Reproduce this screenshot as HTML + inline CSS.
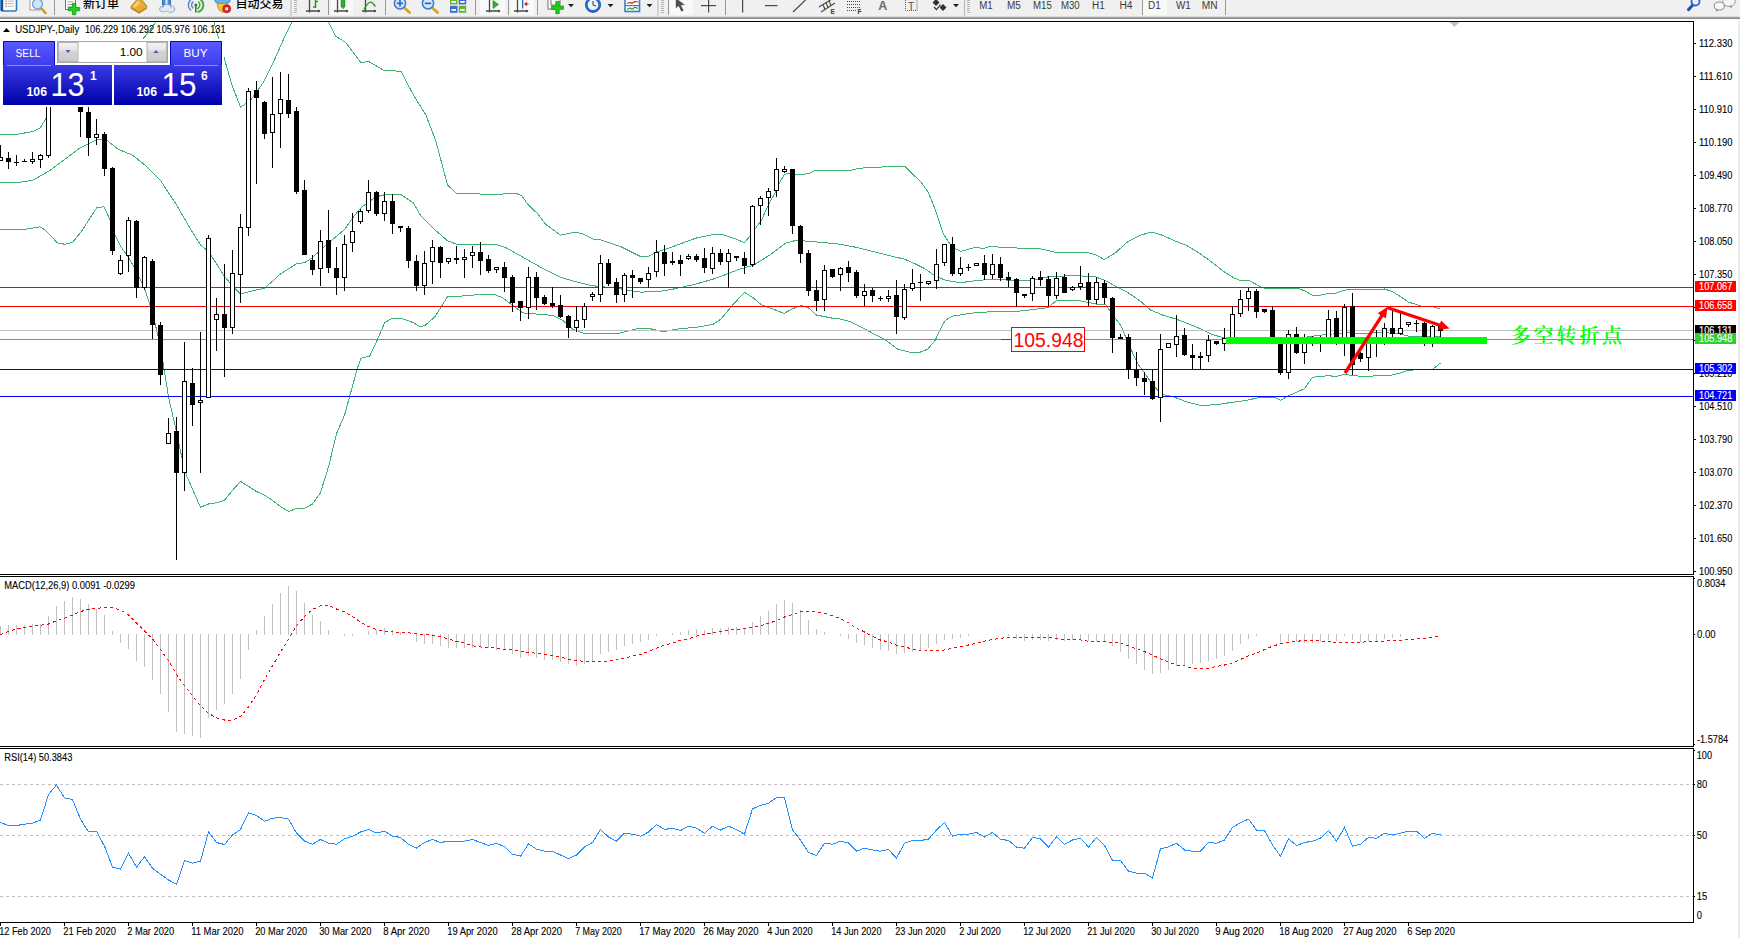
<!DOCTYPE html>
<html><head><meta charset="utf-8"><title>USDJPY Daily</title>
<style>
html,body{margin:0;padding:0;background:#fff;overflow:hidden}
svg{display:block}
text{font-family:"Liberation Sans", "Noto Sans CJK SC", sans-serif;}
.ax{font-size:10px;fill:#000;stroke:#000;stroke-width:0.1px}
.lb{font-size:10px;fill:#fff;stroke:#fff;stroke-width:0.1px}
.tf{font-size:10px;fill:#3a3a3a}
.cj{font-size:12px;fill:#000;font-weight:500}
.zh{font-family:"Liberation Serif", "Noto Serif CJK SC", serif;font-size:20.2px;font-weight:600;fill:#00ff00;letter-spacing:2.7px}
</style></head><body>
<svg width="1740" height="938" viewBox="0 0 1740 938">
<defs>
<clipPath id="cm"><rect x="0" y="22" width="1693" height="552"/></clipPath>
<linearGradient id="gb" x1="0" y1="0" x2="0" y2="1"><stop offset="0" stop-color="#3a3ae6"/><stop offset="1" stop-color="#0000a8"/></linearGradient>
<linearGradient id="gt" x1="0" y1="0" x2="0" y2="1"><stop offset="0" stop-color="#5a5aff"/><stop offset="1" stop-color="#3c3cec"/></linearGradient>
<linearGradient id="gg" x1="0" y1="0" x2="0" y2="1"><stop offset="0" stop-color="#f2f2f2"/><stop offset="0.4" stop-color="#e6e6e6"/><stop offset="0.45" stop-color="#d4d4d4"/><stop offset="1" stop-color="#cacaca"/></linearGradient>
</defs>
<rect width="1740" height="938" fill="#fff"/>

<g clip-path="url(#cm)" fill="none" stroke="#3cb371" stroke-width="1" shape-rendering="crispEdges">
<polyline points="0.0,135.0 15.0,134.8 32.6,131.5 40.0,128.3 46.4,117.7 50.0,106.5 80.0,80.0 110.0,60.0 143.0,39.0 156.0,22.0 165.0,8.0 185.0,-10.0 205.0,5.0 214.0,22.0 218.7,38.7 224.0,57.5 232.0,85.3 240.6,107.2 250.6,100.2 263.2,82.7 273.2,62.6 283.2,40.0 292.0,22.0 300.0,5.0 320.0,5.0 328.3,22.0 335.8,36.3 345.9,42.6 360.9,62.6 368.4,61.4 383.5,70.1 401.0,71.4 413.5,95.2 426.0,115.2 435.5,140.0 447.6,185.1 456.3,193.1 495.2,194.6 515.2,193.1 521.5,195.6 529.0,205.7 537.8,213.9 545.3,224.0 560.4,235.2 575.4,232.2 582.9,234.0 592.9,239.0 600.5,239.7 620.5,246.5 640.6,256.5 649.3,256.0 656.8,252.0 673.1,246.5 695.7,238.2 713.2,234.5 723.3,234.7 735.8,239.0 744.6,242.8 753.3,231.5 761.4,220.2 769.4,202.7 777.4,188.9 780.0,181.6 784.5,174.5 790.2,173.0 796.6,174.3 803.0,174.3 809.4,173.3 815.8,170.3 850.4,170.3 860.6,168.1 876.0,167.5 892.6,166.2 904.7,166.2 913.0,174.5 920.7,181.6 928.4,192.4 936.0,211.6 943.7,234.7 950.1,244.2 955.2,248.7 960.4,251.3 968.0,249.4 975.7,247.2 983.4,248.5 991.0,246.2 1002.9,247.6 1020.5,248.1 1040.5,248.8 1056.8,252.6 1085.6,252.1 1095.6,254.6 1104.4,259.6 1115.7,252.6 1128.2,241.3 1140.8,235.0 1152.0,232.0 1163.3,235.6 1175.8,241.3 1185.9,245.1 1198.4,252.6 1210.9,261.4 1223.5,271.4 1233.5,277.7 1241.0,280.7 1250.0,281.0 1260.0,286.5 1264.4,288.2 1297.5,288.2 1304.7,290.8 1311.9,295.1 1320.5,295.1 1328.4,293.4 1336.4,293.0 1344.4,290.1 1352.5,289.7 1368.5,289.7 1376.5,289.4 1384.4,289.0 1392.5,291.6 1400.4,296.6 1408.5,302.1 1416.5,304.5 1424.4,307.0 1432.5,306.7 1440.4,308.8"/>
<polyline points="0.0,182.9 15.0,182.9 32.6,180.4 50.0,170.4 65.2,159.1 80.2,147.8 96.5,139.8 105.3,139.0 117.8,149.0 132.8,155.3 145.4,165.4 160.4,180.4 175.4,203.0 190.5,229.0 200.5,245.0 208.5,251.5 216.5,263.8 224.6,276.4 232.6,286.4 240.6,293.9 250.6,291.4 264.4,288.1 272.4,281.4 280.5,273.9 296.5,263.8 304.5,262.6 312.5,257.6 320.5,250.0 328.6,242.5 336.6,236.3 344.6,229.5 352.6,218.0 360.7,208.0 368.7,201.7 376.7,196.7 384.7,194.7 401.0,194.7 413.5,203.0 420.0,214.7 432.5,227.7 447.6,240.8 456.3,244.0 495.2,244.0 505.2,247.3 520.3,255.8 532.8,262.8 545.3,269.8 560.4,277.3 575.4,281.6 590.4,285.4 600.5,286.6 615.5,287.9 633.0,291.1 640.6,292.1 658.1,291.6 673.1,289.1 695.7,284.1 713.2,279.1 728.3,273.6 738.3,269.6 753.3,265.3 769.4,255.3 785.4,243.3 796.0,240.3 811.0,241.5 833.5,243.5 840.0,244.3 855.0,247.1 872.6,251.3 887.6,255.1 905.2,259.4 915.2,263.9 925.2,268.9 934.0,275.2 945.3,280.2 960.3,282.7 975.3,280.7 990.4,279.4 1010.4,280.2 1030.5,280.7 1048.0,276.9 1065.6,275.9 1080.6,275.9 1095.6,276.9 1105.7,280.7 1115.7,286.4 1128.2,292.7 1140.8,301.5 1150.8,310.2 1163.3,315.3 1175.8,319.0 1185.9,322.8 1200.9,329.0 1210.9,334.0 1223.5,337.8 1240.0,340.0 1280.0,340.0 1300.0,338.0 1311.9,336.2 1320.5,335.4 1324.8,334.3 1332.8,334.0 1339.2,333.3 1347.9,332.6 1359.4,333.3 1368.5,333.3 1376.5,332.6 1384.4,332.6 1400.4,334.0 1408.5,336.2 1412.6,336.9 1437.0,336.9 1440.0,336.2"/>
<polyline points="0.0,229.3 25.0,229.3 40.0,226.8 45.0,230.0 57.6,243.0 65.2,244.3 72.7,242.3 81.5,231.3 85.2,225.5 96.5,208.0 104.0,206.7 110.3,220.5 112.5,230.0 120.6,246.3 128.6,257.6 136.6,271.4 144.6,288.9 152.6,312.7 160.7,347.8 168.7,398.0 176.7,432.6 184.7,471.4 200.5,507.3 208.5,504.0 216.5,502.8 224.5,500.3 232.6,490.2 240.6,481.5 248.6,486.5 256.4,491.5 264.4,495.2 272.4,500.3 280.5,506.5 288.5,511.5 296.5,508.5 304.5,508.3 312.5,504.0 320.5,492.7 328.6,466.5 336.6,433.5 344.6,415.0 349.6,396.7 357.1,369.1 360.9,358.3 369.7,356.1 376.0,342.8 384.7,322.7 392.2,318.2 401.0,318.2 413.5,322.7 420.0,326.7 425.0,325.5 435.0,316.7 441.3,306.7 447.6,296.6 465.1,295.9 477.6,294.6 495.2,294.6 502.7,297.9 512.7,305.4 522.8,312.9 537.8,314.2 552.8,315.4 562.9,320.5 572.9,329.2 582.9,333.0 600.5,333.7 620.5,333.0 638.0,328.5 649.3,328.5 663.1,331.7 680.7,328.5 695.7,327.5 713.2,324.2 720.8,319.2 733.3,304.2 744.6,292.4 753.3,297.9 761.4,304.9 773.4,309.2 783.9,313.4 793.4,308.4 801.5,305.4 809.5,308.4 816.0,314.9 833.5,318.4 840.0,319.0 850.0,321.5 862.6,327.8 875.1,334.5 885.1,339.8 897.6,349.1 910.2,352.3 920.2,352.1 927.7,349.1 935.2,340.3 940.3,329.0 945.3,320.3 952.8,316.0 975.3,312.7 995.4,311.5 1020.5,311.0 1048.0,307.7 1056.8,300.2 1080.6,301.0 1095.6,304.0 1105.7,304.7 1113.2,315.3 1120.7,325.3 1129.2,345.3 1137.2,362.9 1145.3,374.1 1153.3,385.4 1161.3,394.2 1173.3,396.7 1185.9,401.7 1200.9,405.5 1215.9,404.7 1231.0,402.5 1246.0,400.5 1260.0,397.3 1274.5,397.3 1280.5,400.2 1288.4,395.9 1296.5,392.3 1304.4,388.7 1312.5,377.2 1320.5,376.5 1328.4,375.7 1336.5,376.5 1344.4,374.3 1352.5,375.5 1360.5,376.2 1368.5,376.5 1376.5,375.7 1384.4,375.5 1392.5,375.0 1400.4,372.9 1408.5,370.0 1412.6,370.0 1432.5,369.3 1440.4,363.1"/>
</g>
<g shape-rendering="crispEdges">
<rect x="0" y="287" width="1693" height="1" fill="#ff0000"/>
<rect x="0" y="306" width="1693" height="1" fill="#ff0000"/>
<rect x="0" y="330" width="1693" height="1" fill="#c0c0c0"/>
<rect x="0" y="369" width="1693" height="1" fill="#0000ff"/>
<rect x="0" y="396" width="1693" height="1" fill="#0000ff"/>
<rect x="0" y="339" width="1693" height="1" fill="#32cd32"/>
</g>
<g shape-rendering="crispEdges" clip-path="url(#cm)">
<rect x="0" y="145" width="1" height="16" fill="#000"/>
<rect x="-2" y="157" width="5" height="4" fill="#000"/>
<rect x="-1" y="158" width="3" height="2" fill="#fff"/>
<rect x="8" y="152" width="1" height="17" fill="#000"/>
<rect x="6" y="158" width="5" height="4" fill="#000"/>
<rect x="16" y="155" width="1" height="11" fill="#000"/>
<rect x="14" y="162" width="5" height="1" fill="#000"/>
<rect x="24" y="159" width="1" height="3" fill="#000"/>
<rect x="22" y="161" width="5" height="1" fill="#000"/>
<rect x="32" y="152" width="1" height="12" fill="#000"/>
<rect x="30" y="159" width="5" height="3" fill="#000"/>
<rect x="31" y="160" width="3" height="1" fill="#fff"/>
<rect x="40" y="154" width="1" height="14" fill="#000"/>
<rect x="38" y="155" width="5" height="5" fill="#000"/>
<rect x="39" y="156" width="3" height="3" fill="#fff"/>
<rect x="48" y="100" width="1" height="58" fill="#000"/>
<rect x="46" y="100" width="5" height="56" fill="#000"/>
<rect x="47" y="101" width="3" height="54" fill="#fff"/>
<rect x="80" y="100" width="1" height="37" fill="#000"/>
<rect x="78" y="100" width="5" height="12" fill="#000"/>
<rect x="88" y="100" width="1" height="56" fill="#000"/>
<rect x="86" y="112" width="5" height="26" fill="#000"/>
<rect x="96" y="119" width="1" height="26" fill="#000"/>
<rect x="94" y="134" width="5" height="4" fill="#000"/>
<rect x="95" y="135" width="3" height="2" fill="#fff"/>
<rect x="104" y="132" width="1" height="44" fill="#000"/>
<rect x="102" y="134" width="5" height="35" fill="#000"/>
<rect x="112" y="167" width="1" height="88" fill="#000"/>
<rect x="110" y="168" width="5" height="83" fill="#000"/>
<rect x="120" y="255" width="1" height="20" fill="#000"/>
<rect x="118" y="260" width="5" height="14" fill="#000"/>
<rect x="119" y="261" width="3" height="12" fill="#fff"/>
<rect x="128" y="217" width="1" height="55" fill="#000"/>
<rect x="126" y="220" width="5" height="36" fill="#000"/>
<rect x="127" y="221" width="3" height="34" fill="#fff"/>
<rect x="136" y="220" width="1" height="78" fill="#000"/>
<rect x="134" y="221" width="5" height="67" fill="#000"/>
<rect x="144" y="256" width="1" height="34" fill="#000"/>
<rect x="142" y="257" width="5" height="31" fill="#000"/>
<rect x="143" y="258" width="3" height="29" fill="#fff"/>
<rect x="152" y="259" width="1" height="80" fill="#000"/>
<rect x="150" y="261" width="5" height="64" fill="#000"/>
<rect x="160" y="322" width="1" height="63" fill="#000"/>
<rect x="158" y="325" width="5" height="50" fill="#000"/>
<rect x="168" y="418" width="1" height="26" fill="#000"/>
<rect x="166" y="433" width="5" height="11" fill="#000"/>
<rect x="167" y="434" width="3" height="9" fill="#fff"/>
<rect x="176" y="417" width="1" height="143" fill="#000"/>
<rect x="174" y="431" width="5" height="42" fill="#000"/>
<rect x="184" y="342" width="1" height="149" fill="#000"/>
<rect x="182" y="381" width="5" height="92" fill="#000"/>
<rect x="183" y="382" width="3" height="90" fill="#fff"/>
<rect x="192" y="368" width="1" height="58" fill="#000"/>
<rect x="190" y="383" width="5" height="22" fill="#000"/>
<rect x="200" y="332" width="1" height="141" fill="#000"/>
<rect x="198" y="400" width="5" height="3" fill="#000"/>
<rect x="199" y="401" width="3" height="1" fill="#fff"/>
<rect x="208" y="235" width="1" height="163" fill="#000"/>
<rect x="206" y="238" width="5" height="160" fill="#000"/>
<rect x="207" y="239" width="3" height="158" fill="#fff"/>
<rect x="216" y="298" width="1" height="53" fill="#000"/>
<rect x="214" y="314" width="5" height="6" fill="#000"/>
<rect x="215" y="315" width="3" height="4" fill="#fff"/>
<rect x="224" y="264" width="1" height="113" fill="#000"/>
<rect x="222" y="314" width="5" height="14" fill="#000"/>
<rect x="232" y="250" width="1" height="84" fill="#000"/>
<rect x="230" y="273" width="5" height="55" fill="#000"/>
<rect x="231" y="274" width="3" height="53" fill="#fff"/>
<rect x="240" y="214" width="1" height="89" fill="#000"/>
<rect x="238" y="227" width="5" height="48" fill="#000"/>
<rect x="239" y="228" width="3" height="46" fill="#fff"/>
<rect x="248" y="88" width="1" height="148" fill="#000"/>
<rect x="246" y="91" width="5" height="137" fill="#000"/>
<rect x="247" y="92" width="3" height="135" fill="#fff"/>
<rect x="256" y="81" width="1" height="103" fill="#000"/>
<rect x="254" y="90" width="5" height="8" fill="#000"/>
<rect x="264" y="101" width="1" height="38" fill="#000"/>
<rect x="262" y="102" width="5" height="32" fill="#000"/>
<rect x="272" y="77" width="1" height="91" fill="#000"/>
<rect x="270" y="114" width="5" height="19" fill="#000"/>
<rect x="271" y="115" width="3" height="17" fill="#fff"/>
<rect x="280" y="72" width="1" height="76" fill="#000"/>
<rect x="278" y="99" width="5" height="15" fill="#000"/>
<rect x="279" y="100" width="3" height="13" fill="#fff"/>
<rect x="288" y="74" width="1" height="44" fill="#000"/>
<rect x="286" y="100" width="5" height="14" fill="#000"/>
<rect x="296" y="107" width="1" height="87" fill="#000"/>
<rect x="294" y="111" width="5" height="81" fill="#000"/>
<rect x="304" y="180" width="1" height="75" fill="#000"/>
<rect x="302" y="190" width="5" height="65" fill="#000"/>
<rect x="312" y="255" width="1" height="20" fill="#000"/>
<rect x="310" y="260" width="5" height="10" fill="#000"/>
<rect x="320" y="230" width="1" height="56" fill="#000"/>
<rect x="318" y="241" width="5" height="28" fill="#000"/>
<rect x="319" y="242" width="3" height="26" fill="#fff"/>
<rect x="328" y="210" width="1" height="63" fill="#000"/>
<rect x="326" y="240" width="5" height="28" fill="#000"/>
<rect x="336" y="247" width="1" height="48" fill="#000"/>
<rect x="334" y="268" width="5" height="10" fill="#000"/>
<rect x="344" y="235" width="1" height="56" fill="#000"/>
<rect x="342" y="244" width="5" height="34" fill="#000"/>
<rect x="343" y="245" width="3" height="32" fill="#fff"/>
<rect x="352" y="213" width="1" height="39" fill="#000"/>
<rect x="350" y="231" width="5" height="12" fill="#000"/>
<rect x="351" y="232" width="3" height="10" fill="#fff"/>
<rect x="360" y="209" width="1" height="15" fill="#000"/>
<rect x="358" y="211" width="5" height="11" fill="#000"/>
<rect x="359" y="212" width="3" height="9" fill="#fff"/>
<rect x="368" y="180" width="1" height="33" fill="#000"/>
<rect x="366" y="192" width="5" height="19" fill="#000"/>
<rect x="367" y="193" width="3" height="17" fill="#fff"/>
<rect x="376" y="191" width="1" height="25" fill="#000"/>
<rect x="374" y="192" width="5" height="22" fill="#000"/>
<rect x="384" y="192" width="1" height="29" fill="#000"/>
<rect x="382" y="201" width="5" height="13" fill="#000"/>
<rect x="383" y="202" width="3" height="11" fill="#fff"/>
<rect x="392" y="194" width="1" height="40" fill="#000"/>
<rect x="390" y="201" width="5" height="23" fill="#000"/>
<rect x="400" y="226" width="1" height="6" fill="#000"/>
<rect x="398" y="226" width="5" height="2" fill="#000"/>
<rect x="408" y="226" width="1" height="42" fill="#000"/>
<rect x="406" y="228" width="5" height="33" fill="#000"/>
<rect x="416" y="255" width="1" height="36" fill="#000"/>
<rect x="414" y="261" width="5" height="25" fill="#000"/>
<rect x="424" y="251" width="1" height="44" fill="#000"/>
<rect x="422" y="263" width="5" height="23" fill="#000"/>
<rect x="423" y="264" width="3" height="21" fill="#fff"/>
<rect x="432" y="240" width="1" height="44" fill="#000"/>
<rect x="430" y="247" width="5" height="15" fill="#000"/>
<rect x="431" y="248" width="3" height="13" fill="#fff"/>
<rect x="440" y="246" width="1" height="32" fill="#000"/>
<rect x="438" y="247" width="5" height="16" fill="#000"/>
<rect x="448" y="258" width="1" height="6" fill="#000"/>
<rect x="446" y="258" width="5" height="4" fill="#000"/>
<rect x="447" y="259" width="3" height="2" fill="#fff"/>
<rect x="456" y="246" width="1" height="18" fill="#000"/>
<rect x="454" y="258" width="5" height="2" fill="#000"/>
<rect x="464" y="249" width="1" height="29" fill="#000"/>
<rect x="462" y="257" width="5" height="3" fill="#000"/>
<rect x="463" y="258" width="3" height="1" fill="#fff"/>
<rect x="472" y="246" width="1" height="22" fill="#000"/>
<rect x="470" y="252" width="5" height="4" fill="#000"/>
<rect x="471" y="253" width="3" height="2" fill="#fff"/>
<rect x="480" y="242" width="1" height="33" fill="#000"/>
<rect x="478" y="252" width="5" height="9" fill="#000"/>
<rect x="488" y="255" width="1" height="18" fill="#000"/>
<rect x="486" y="259" width="5" height="12" fill="#000"/>
<rect x="496" y="267" width="1" height="6" fill="#000"/>
<rect x="494" y="267" width="5" height="3" fill="#000"/>
<rect x="495" y="268" width="3" height="1" fill="#fff"/>
<rect x="504" y="262" width="1" height="30" fill="#000"/>
<rect x="502" y="267" width="5" height="11" fill="#000"/>
<rect x="512" y="275" width="1" height="37" fill="#000"/>
<rect x="510" y="277" width="5" height="26" fill="#000"/>
<rect x="520" y="301" width="1" height="20" fill="#000"/>
<rect x="518" y="301" width="5" height="7" fill="#000"/>
<rect x="528" y="267" width="1" height="52" fill="#000"/>
<rect x="526" y="277" width="5" height="31" fill="#000"/>
<rect x="527" y="278" width="3" height="29" fill="#fff"/>
<rect x="536" y="272" width="1" height="38" fill="#000"/>
<rect x="534" y="277" width="5" height="21" fill="#000"/>
<rect x="544" y="295" width="1" height="10" fill="#000"/>
<rect x="542" y="297" width="5" height="7" fill="#000"/>
<rect x="552" y="287" width="1" height="21" fill="#000"/>
<rect x="550" y="303" width="5" height="3" fill="#000"/>
<rect x="560" y="295" width="1" height="23" fill="#000"/>
<rect x="558" y="305" width="5" height="12" fill="#000"/>
<rect x="568" y="315" width="1" height="23" fill="#000"/>
<rect x="566" y="316" width="5" height="12" fill="#000"/>
<rect x="576" y="306" width="1" height="26" fill="#000"/>
<rect x="574" y="320" width="5" height="8" fill="#000"/>
<rect x="575" y="321" width="3" height="6" fill="#fff"/>
<rect x="584" y="303" width="1" height="25" fill="#000"/>
<rect x="582" y="306" width="5" height="14" fill="#000"/>
<rect x="583" y="307" width="3" height="12" fill="#fff"/>
<rect x="592" y="292" width="1" height="9" fill="#000"/>
<rect x="590" y="294" width="5" height="3" fill="#000"/>
<rect x="591" y="295" width="3" height="1" fill="#fff"/>
<rect x="600" y="255" width="1" height="47" fill="#000"/>
<rect x="598" y="263" width="5" height="32" fill="#000"/>
<rect x="599" y="264" width="3" height="30" fill="#fff"/>
<rect x="608" y="259" width="1" height="27" fill="#000"/>
<rect x="606" y="263" width="5" height="21" fill="#000"/>
<rect x="616" y="278" width="1" height="25" fill="#000"/>
<rect x="614" y="282" width="5" height="13" fill="#000"/>
<rect x="624" y="273" width="1" height="29" fill="#000"/>
<rect x="622" y="275" width="5" height="20" fill="#000"/>
<rect x="623" y="276" width="3" height="18" fill="#fff"/>
<rect x="632" y="270" width="1" height="28" fill="#000"/>
<rect x="630" y="275" width="5" height="3" fill="#000"/>
<rect x="640" y="278" width="1" height="6" fill="#000"/>
<rect x="638" y="278" width="5" height="4" fill="#000"/>
<rect x="648" y="267" width="1" height="21" fill="#000"/>
<rect x="646" y="273" width="5" height="7" fill="#000"/>
<rect x="647" y="274" width="3" height="5" fill="#fff"/>
<rect x="656" y="240" width="1" height="37" fill="#000"/>
<rect x="654" y="252" width="5" height="20" fill="#000"/>
<rect x="655" y="253" width="3" height="18" fill="#fff"/>
<rect x="664" y="245" width="1" height="31" fill="#000"/>
<rect x="662" y="252" width="5" height="12" fill="#000"/>
<rect x="672" y="252" width="1" height="13" fill="#000"/>
<rect x="670" y="261" width="5" height="2" fill="#000"/>
<rect x="680" y="255" width="1" height="21" fill="#000"/>
<rect x="678" y="260" width="5" height="4" fill="#000"/>
<rect x="688" y="254" width="1" height="6" fill="#000"/>
<rect x="686" y="256" width="5" height="3" fill="#000"/>
<rect x="687" y="257" width="3" height="1" fill="#fff"/>
<rect x="696" y="254" width="1" height="8" fill="#000"/>
<rect x="694" y="256" width="5" height="4" fill="#000"/>
<rect x="704" y="248" width="1" height="25" fill="#000"/>
<rect x="702" y="258" width="5" height="10" fill="#000"/>
<rect x="712" y="247" width="1" height="27" fill="#000"/>
<rect x="710" y="253" width="5" height="16" fill="#000"/>
<rect x="711" y="254" width="3" height="14" fill="#fff"/>
<rect x="720" y="249" width="1" height="16" fill="#000"/>
<rect x="718" y="253" width="5" height="9" fill="#000"/>
<rect x="728" y="249" width="1" height="39" fill="#000"/>
<rect x="726" y="253" width="5" height="9" fill="#000"/>
<rect x="727" y="254" width="3" height="7" fill="#fff"/>
<rect x="736" y="256" width="1" height="5" fill="#000"/>
<rect x="734" y="256" width="5" height="2" fill="#000"/>
<rect x="744" y="252" width="1" height="22" fill="#000"/>
<rect x="742" y="258" width="5" height="8" fill="#000"/>
<rect x="752" y="205" width="1" height="62" fill="#000"/>
<rect x="750" y="206" width="5" height="59" fill="#000"/>
<rect x="751" y="207" width="3" height="57" fill="#fff"/>
<rect x="760" y="196" width="1" height="29" fill="#000"/>
<rect x="758" y="198" width="5" height="8" fill="#000"/>
<rect x="759" y="199" width="3" height="6" fill="#fff"/>
<rect x="768" y="188" width="1" height="28" fill="#000"/>
<rect x="766" y="191" width="5" height="7" fill="#000"/>
<rect x="767" y="192" width="3" height="5" fill="#fff"/>
<rect x="776" y="158" width="1" height="39" fill="#000"/>
<rect x="774" y="169" width="5" height="22" fill="#000"/>
<rect x="775" y="170" width="3" height="20" fill="#fff"/>
<rect x="784" y="166" width="1" height="7" fill="#000"/>
<rect x="782" y="169" width="5" height="3" fill="#000"/>
<rect x="783" y="170" width="3" height="1" fill="#fff"/>
<rect x="792" y="169" width="1" height="65" fill="#000"/>
<rect x="790" y="169" width="5" height="57" fill="#000"/>
<rect x="800" y="225" width="1" height="38" fill="#000"/>
<rect x="798" y="226" width="5" height="28" fill="#000"/>
<rect x="808" y="250" width="1" height="46" fill="#000"/>
<rect x="806" y="253" width="5" height="38" fill="#000"/>
<rect x="816" y="280" width="1" height="31" fill="#000"/>
<rect x="814" y="290" width="5" height="11" fill="#000"/>
<rect x="824" y="265" width="1" height="46" fill="#000"/>
<rect x="822" y="270" width="5" height="30" fill="#000"/>
<rect x="823" y="271" width="3" height="28" fill="#fff"/>
<rect x="832" y="269" width="1" height="9" fill="#000"/>
<rect x="830" y="269" width="5" height="8" fill="#000"/>
<rect x="840" y="267" width="1" height="24" fill="#000"/>
<rect x="838" y="268" width="5" height="7" fill="#000"/>
<rect x="839" y="269" width="3" height="5" fill="#fff"/>
<rect x="848" y="261" width="1" height="21" fill="#000"/>
<rect x="846" y="267" width="5" height="6" fill="#000"/>
<rect x="856" y="270" width="1" height="28" fill="#000"/>
<rect x="854" y="272" width="5" height="24" fill="#000"/>
<rect x="864" y="284" width="1" height="22" fill="#000"/>
<rect x="862" y="291" width="5" height="5" fill="#000"/>
<rect x="863" y="292" width="3" height="3" fill="#fff"/>
<rect x="872" y="288" width="1" height="14" fill="#000"/>
<rect x="870" y="290" width="5" height="6" fill="#000"/>
<rect x="880" y="296" width="1" height="5" fill="#000"/>
<rect x="878" y="298" width="5" height="1" fill="#000"/>
<rect x="888" y="290" width="1" height="12" fill="#000"/>
<rect x="886" y="296" width="5" height="3" fill="#000"/>
<rect x="887" y="297" width="3" height="1" fill="#fff"/>
<rect x="896" y="280" width="1" height="54" fill="#000"/>
<rect x="894" y="295" width="5" height="22" fill="#000"/>
<rect x="904" y="284" width="1" height="36" fill="#000"/>
<rect x="902" y="289" width="5" height="29" fill="#000"/>
<rect x="903" y="290" width="3" height="27" fill="#fff"/>
<rect x="912" y="269" width="1" height="22" fill="#000"/>
<rect x="910" y="283" width="5" height="6" fill="#000"/>
<rect x="911" y="284" width="3" height="4" fill="#fff"/>
<rect x="920" y="274" width="1" height="27" fill="#000"/>
<rect x="918" y="282" width="5" height="1" fill="#000"/>
<rect x="928" y="281" width="1" height="4" fill="#000"/>
<rect x="926" y="281" width="5" height="3" fill="#000"/>
<rect x="927" y="282" width="3" height="1" fill="#fff"/>
<rect x="936" y="249" width="1" height="40" fill="#000"/>
<rect x="934" y="264" width="5" height="17" fill="#000"/>
<rect x="935" y="265" width="3" height="15" fill="#fff"/>
<rect x="944" y="244" width="1" height="22" fill="#000"/>
<rect x="942" y="244" width="5" height="19" fill="#000"/>
<rect x="943" y="245" width="3" height="17" fill="#fff"/>
<rect x="952" y="237" width="1" height="39" fill="#000"/>
<rect x="950" y="244" width="5" height="30" fill="#000"/>
<rect x="960" y="257" width="1" height="19" fill="#000"/>
<rect x="958" y="268" width="5" height="6" fill="#000"/>
<rect x="959" y="269" width="3" height="4" fill="#fff"/>
<rect x="968" y="264" width="1" height="7" fill="#000"/>
<rect x="966" y="267" width="5" height="1" fill="#000"/>
<rect x="976" y="263" width="1" height="3" fill="#000"/>
<rect x="974" y="263" width="5" height="3" fill="#000"/>
<rect x="975" y="264" width="3" height="1" fill="#fff"/>
<rect x="984" y="255" width="1" height="25" fill="#000"/>
<rect x="982" y="263" width="5" height="12" fill="#000"/>
<rect x="992" y="254" width="1" height="25" fill="#000"/>
<rect x="990" y="264" width="5" height="11" fill="#000"/>
<rect x="991" y="265" width="3" height="9" fill="#fff"/>
<rect x="1000" y="257" width="1" height="24" fill="#000"/>
<rect x="998" y="264" width="5" height="14" fill="#000"/>
<rect x="1008" y="272" width="1" height="15" fill="#000"/>
<rect x="1006" y="277" width="5" height="3" fill="#000"/>
<rect x="1016" y="278" width="1" height="29" fill="#000"/>
<rect x="1014" y="279" width="5" height="14" fill="#000"/>
<rect x="1024" y="294" width="1" height="4" fill="#000"/>
<rect x="1022" y="294" width="5" height="2" fill="#000"/>
<rect x="1032" y="276" width="1" height="25" fill="#000"/>
<rect x="1030" y="278" width="5" height="16" fill="#000"/>
<rect x="1031" y="279" width="3" height="14" fill="#fff"/>
<rect x="1040" y="271" width="1" height="15" fill="#000"/>
<rect x="1038" y="277" width="5" height="3" fill="#000"/>
<rect x="1048" y="276" width="1" height="30" fill="#000"/>
<rect x="1046" y="279" width="5" height="17" fill="#000"/>
<rect x="1056" y="272" width="1" height="27" fill="#000"/>
<rect x="1054" y="278" width="5" height="18" fill="#000"/>
<rect x="1055" y="279" width="3" height="16" fill="#fff"/>
<rect x="1064" y="274" width="1" height="19" fill="#000"/>
<rect x="1062" y="277" width="5" height="16" fill="#000"/>
<rect x="1072" y="286" width="1" height="5" fill="#000"/>
<rect x="1070" y="287" width="5" height="3" fill="#000"/>
<rect x="1071" y="288" width="3" height="1" fill="#fff"/>
<rect x="1080" y="266" width="1" height="24" fill="#000"/>
<rect x="1078" y="283" width="5" height="4" fill="#000"/>
<rect x="1079" y="284" width="3" height="2" fill="#fff"/>
<rect x="1088" y="273" width="1" height="33" fill="#000"/>
<rect x="1086" y="282" width="5" height="18" fill="#000"/>
<rect x="1096" y="277" width="1" height="27" fill="#000"/>
<rect x="1094" y="282" width="5" height="18" fill="#000"/>
<rect x="1095" y="283" width="3" height="16" fill="#fff"/>
<rect x="1104" y="280" width="1" height="24" fill="#000"/>
<rect x="1102" y="283" width="5" height="15" fill="#000"/>
<rect x="1112" y="297" width="1" height="56" fill="#000"/>
<rect x="1110" y="298" width="5" height="40" fill="#000"/>
<rect x="1120" y="334" width="1" height="5" fill="#000"/>
<rect x="1118" y="337" width="5" height="2" fill="#000"/>
<rect x="1128" y="334" width="1" height="45" fill="#000"/>
<rect x="1126" y="337" width="5" height="33" fill="#000"/>
<rect x="1136" y="352" width="1" height="34" fill="#000"/>
<rect x="1134" y="370" width="5" height="8" fill="#000"/>
<rect x="1144" y="372" width="1" height="23" fill="#000"/>
<rect x="1142" y="378" width="5" height="4" fill="#000"/>
<rect x="1152" y="370" width="1" height="30" fill="#000"/>
<rect x="1150" y="381" width="5" height="18" fill="#000"/>
<rect x="1160" y="334" width="1" height="88" fill="#000"/>
<rect x="1158" y="349" width="5" height="49" fill="#000"/>
<rect x="1159" y="350" width="3" height="47" fill="#fff"/>
<rect x="1168" y="343" width="1" height="5" fill="#000"/>
<rect x="1166" y="343" width="5" height="5" fill="#000"/>
<rect x="1167" y="344" width="3" height="3" fill="#fff"/>
<rect x="1176" y="315" width="1" height="42" fill="#000"/>
<rect x="1174" y="336" width="5" height="9" fill="#000"/>
<rect x="1175" y="337" width="3" height="7" fill="#fff"/>
<rect x="1184" y="328" width="1" height="28" fill="#000"/>
<rect x="1182" y="335" width="5" height="20" fill="#000"/>
<rect x="1192" y="344" width="1" height="25" fill="#000"/>
<rect x="1190" y="355" width="5" height="3" fill="#000"/>
<rect x="1200" y="352" width="1" height="17" fill="#000"/>
<rect x="1198" y="356" width="5" height="2" fill="#000"/>
<rect x="1208" y="335" width="1" height="27" fill="#000"/>
<rect x="1206" y="340" width="5" height="16" fill="#000"/>
<rect x="1207" y="341" width="3" height="14" fill="#fff"/>
<rect x="1216" y="341" width="1" height="4" fill="#000"/>
<rect x="1214" y="341" width="5" height="3" fill="#000"/>
<rect x="1224" y="328" width="1" height="23" fill="#000"/>
<rect x="1222" y="338" width="5" height="6" fill="#000"/>
<rect x="1223" y="339" width="3" height="4" fill="#fff"/>
<rect x="1232" y="306" width="1" height="32" fill="#000"/>
<rect x="1230" y="314" width="5" height="24" fill="#000"/>
<rect x="1231" y="315" width="3" height="22" fill="#fff"/>
<rect x="1240" y="290" width="1" height="27" fill="#000"/>
<rect x="1238" y="299" width="5" height="15" fill="#000"/>
<rect x="1239" y="300" width="3" height="13" fill="#fff"/>
<rect x="1248" y="288" width="1" height="23" fill="#000"/>
<rect x="1246" y="291" width="5" height="8" fill="#000"/>
<rect x="1247" y="292" width="3" height="6" fill="#fff"/>
<rect x="1256" y="289" width="1" height="29" fill="#000"/>
<rect x="1254" y="291" width="5" height="21" fill="#000"/>
<rect x="1264" y="309" width="1" height="4" fill="#000"/>
<rect x="1262" y="309" width="5" height="3" fill="#000"/>
<rect x="1272" y="306" width="1" height="34" fill="#000"/>
<rect x="1270" y="310" width="5" height="30" fill="#000"/>
<rect x="1280" y="340" width="1" height="35" fill="#000"/>
<rect x="1278" y="340" width="5" height="33" fill="#000"/>
<rect x="1288" y="330" width="1" height="49" fill="#000"/>
<rect x="1286" y="334" width="5" height="39" fill="#000"/>
<rect x="1287" y="335" width="3" height="37" fill="#fff"/>
<rect x="1296" y="327" width="1" height="27" fill="#000"/>
<rect x="1294" y="334" width="5" height="19" fill="#000"/>
<rect x="1304" y="334" width="1" height="30" fill="#000"/>
<rect x="1302" y="341" width="5" height="12" fill="#000"/>
<rect x="1303" y="342" width="3" height="10" fill="#fff"/>
<rect x="1312" y="336" width="1" height="10" fill="#000"/>
<rect x="1310" y="340" width="5" height="1" fill="#000"/>
<rect x="1320" y="336" width="1" height="16" fill="#000"/>
<rect x="1318" y="340" width="5" height="1" fill="#000"/>
<rect x="1328" y="310" width="1" height="31" fill="#000"/>
<rect x="1326" y="319" width="5" height="21" fill="#000"/>
<rect x="1327" y="320" width="3" height="19" fill="#fff"/>
<rect x="1336" y="311" width="1" height="34" fill="#000"/>
<rect x="1334" y="318" width="5" height="22" fill="#000"/>
<rect x="1344" y="304" width="1" height="52" fill="#000"/>
<rect x="1342" y="307" width="5" height="33" fill="#000"/>
<rect x="1343" y="308" width="3" height="31" fill="#fff"/>
<rect x="1352" y="293" width="1" height="82" fill="#000"/>
<rect x="1350" y="306" width="5" height="59" fill="#000"/>
<rect x="1360" y="352" width="1" height="10" fill="#000"/>
<rect x="1358" y="353" width="5" height="6" fill="#000"/>
<rect x="1368" y="340" width="1" height="31" fill="#000"/>
<rect x="1366" y="340" width="5" height="18" fill="#000"/>
<rect x="1367" y="341" width="3" height="16" fill="#fff"/>
<rect x="1376" y="330" width="1" height="27" fill="#000"/>
<rect x="1374" y="339" width="5" height="3" fill="#000"/>
<rect x="1375" y="340" width="3" height="1" fill="#fff"/>
<rect x="1384" y="323" width="1" height="22" fill="#000"/>
<rect x="1382" y="328" width="5" height="12" fill="#000"/>
<rect x="1383" y="329" width="3" height="10" fill="#fff"/>
<rect x="1392" y="311" width="1" height="29" fill="#000"/>
<rect x="1390" y="328" width="5" height="6" fill="#000"/>
<rect x="1400" y="313" width="1" height="22" fill="#000"/>
<rect x="1398" y="328" width="5" height="6" fill="#000"/>
<rect x="1399" y="329" width="3" height="4" fill="#fff"/>
<rect x="1408" y="322" width="1" height="5" fill="#000"/>
<rect x="1406" y="322" width="5" height="3" fill="#000"/>
<rect x="1407" y="323" width="3" height="1" fill="#fff"/>
<rect x="1416" y="320" width="1" height="12" fill="#000"/>
<rect x="1414" y="323" width="5" height="1" fill="#000"/>
<rect x="1424" y="322" width="1" height="24" fill="#000"/>
<rect x="1422" y="323" width="5" height="17" fill="#000"/>
<rect x="1432" y="325" width="1" height="22" fill="#000"/>
<rect x="1430" y="326" width="5" height="14" fill="#000"/>
<rect x="1431" y="327" width="3" height="12" fill="#fff"/>
<rect x="1440" y="323" width="1" height="15" fill="#000"/>
<rect x="1438" y="326" width="5" height="5" fill="#000"/>
</g>
<rect x="1226" y="337" width="261" height="7" fill="#00ff00" shape-rendering="crispEdges"/>
<text class="zh" x="1510.5" y="342.9">多空转折点</text>
<line x1="1345" y1="373" x2="1382.9" y2="314.1" stroke="#ff0000" stroke-width="3.3"/>
<polygon points="1387.5,307.0 1385.9,318.5 1377.7,313.2" fill="#ff0000"/>
<line x1="1387" y1="307.5" x2="1441.4" y2="325.8" stroke="#ff0000" stroke-width="3.3"/>
<polygon points="1449.5,328.5 1438.0,329.8 1441.1,320.5" fill="#ff0000"/>
<rect x="1001" y="339" width="10" height="1" fill="#ff0000" shape-rendering="crispEdges"/>
<rect x="1011.5" y="327.5" width="73" height="24" fill="#fff" stroke="#ff0000" stroke-width="1" shape-rendering="crispEdges"/>
<text x="1013.5" y="346.5" style="font-size:19.4px;fill:#ff0000">105.948</text>
<g shape-rendering="crispEdges">
<rect x="0" y="21" width="1694" height="1" fill="#000"/>
<rect x="1693" y="21" width="1" height="554" fill="#000"/>
<rect x="1693" y="576" width="1" height="171" fill="#000"/>
<rect x="1693" y="748" width="1" height="175" fill="#000"/>
<rect x="0" y="574" width="1694" height="1" fill="#000"/>
<rect x="0" y="576" width="1694" height="1" fill="#000"/>
<rect x="0" y="746" width="1694" height="1" fill="#000"/>
<rect x="0" y="748" width="1694" height="1" fill="#000"/>
<rect x="0" y="922" width="1694" height="1" fill="#000"/>
<rect x="0" y="923" width="1" height="3" fill="#000"/>
<rect x="64" y="923" width="1" height="3" fill="#000"/>
<rect x="128" y="923" width="1" height="3" fill="#000"/>
<rect x="192" y="923" width="1" height="3" fill="#000"/>
<rect x="256" y="923" width="1" height="3" fill="#000"/>
<rect x="320" y="923" width="1" height="3" fill="#000"/>
<rect x="384" y="923" width="1" height="3" fill="#000"/>
<rect x="448" y="923" width="1" height="3" fill="#000"/>
<rect x="512" y="923" width="1" height="3" fill="#000"/>
<rect x="576" y="923" width="1" height="3" fill="#000"/>
<rect x="640" y="923" width="1" height="3" fill="#000"/>
<rect x="704" y="923" width="1" height="3" fill="#000"/>
<rect x="768" y="923" width="1" height="3" fill="#000"/>
<rect x="832" y="923" width="1" height="3" fill="#000"/>
<rect x="896" y="923" width="1" height="3" fill="#000"/>
<rect x="960" y="923" width="1" height="3" fill="#000"/>
<rect x="1024" y="923" width="1" height="3" fill="#000"/>
<rect x="1088" y="923" width="1" height="3" fill="#000"/>
<rect x="1152" y="923" width="1" height="3" fill="#000"/>
<rect x="1216" y="923" width="1" height="3" fill="#000"/>
<rect x="1280" y="923" width="1" height="3" fill="#000"/>
<rect x="1344" y="923" width="1" height="3" fill="#000"/>
<rect x="1408" y="923" width="1" height="3" fill="#000"/>
</g>
<g shape-rendering="crispEdges">
<rect x="1694" y="43" width="2" height="1" fill="#000"/>
<rect x="1694" y="76" width="2" height="1" fill="#000"/>
<rect x="1694" y="109" width="2" height="1" fill="#000"/>
<rect x="1694" y="142" width="2" height="1" fill="#000"/>
<rect x="1694" y="175" width="2" height="1" fill="#000"/>
<rect x="1694" y="208" width="2" height="1" fill="#000"/>
<rect x="1694" y="241" width="2" height="1" fill="#000"/>
<rect x="1694" y="274" width="2" height="1" fill="#000"/>
<rect x="1694" y="307" width="2" height="1" fill="#000"/>
<rect x="1694" y="340" width="2" height="1" fill="#000"/>
<rect x="1694" y="373" width="2" height="1" fill="#000"/>
<rect x="1694" y="406" width="2" height="1" fill="#000"/>
<rect x="1694" y="439" width="2" height="1" fill="#000"/>
<rect x="1694" y="472" width="2" height="1" fill="#000"/>
<rect x="1694" y="505" width="2" height="1" fill="#000"/>
<rect x="1694" y="538" width="2" height="1" fill="#000"/>
<rect x="1694" y="571" width="2" height="1" fill="#000"/>
</g>
<text class="ax" x="1699" y="47.0" textLength="33.4" lengthAdjust="spacingAndGlyphs">112.330</text>
<text class="ax" x="1699" y="80.0" textLength="33.4" lengthAdjust="spacingAndGlyphs">111.610</text>
<text class="ax" x="1699" y="113.0" textLength="33.4" lengthAdjust="spacingAndGlyphs">110.910</text>
<text class="ax" x="1699" y="146.0" textLength="33.4" lengthAdjust="spacingAndGlyphs">110.190</text>
<text class="ax" x="1699" y="179.0" textLength="33.4" lengthAdjust="spacingAndGlyphs">109.490</text>
<text class="ax" x="1699" y="212.0" textLength="33.4" lengthAdjust="spacingAndGlyphs">108.770</text>
<text class="ax" x="1699" y="245.0" textLength="33.4" lengthAdjust="spacingAndGlyphs">108.050</text>
<text class="ax" x="1699" y="278.0" textLength="33.4" lengthAdjust="spacingAndGlyphs">107.350</text>
<text class="ax" x="1699" y="311.0" textLength="33.4" lengthAdjust="spacingAndGlyphs">106.630</text>
<text class="ax" x="1699" y="344.0" textLength="33.4" lengthAdjust="spacingAndGlyphs">105.930</text>
<text class="ax" x="1699" y="377.0" textLength="33.4" lengthAdjust="spacingAndGlyphs">105.210</text>
<text class="ax" x="1699" y="410.0" textLength="33.4" lengthAdjust="spacingAndGlyphs">104.510</text>
<text class="ax" x="1699" y="443.0" textLength="33.4" lengthAdjust="spacingAndGlyphs">103.790</text>
<text class="ax" x="1699" y="476.0" textLength="33.4" lengthAdjust="spacingAndGlyphs">103.070</text>
<text class="ax" x="1699" y="509.0" textLength="33.4" lengthAdjust="spacingAndGlyphs">102.370</text>
<text class="ax" x="1699" y="542.0" textLength="33.4" lengthAdjust="spacingAndGlyphs">101.650</text>
<text class="ax" x="1699" y="575.0" textLength="33.4" lengthAdjust="spacingAndGlyphs">100.950</text>
<rect x="1695" y="281" width="41" height="11" fill="#ff0000" shape-rendering="crispEdges"/>
<text class="lb" x="1699" y="290.2" textLength="33.4" lengthAdjust="spacingAndGlyphs">107.067</text>
<rect x="1695" y="300" width="41" height="11" fill="#ff0000" shape-rendering="crispEdges"/>
<text class="lb" x="1699" y="309.2" textLength="33.4" lengthAdjust="spacingAndGlyphs">106.658</text>
<rect x="1695" y="325" width="41" height="10" fill="#000000" shape-rendering="crispEdges"/>
<text class="lb" x="1699" y="334.2" textLength="33.4" lengthAdjust="spacingAndGlyphs">106.131</text>
<rect x="1695" y="333" width="41" height="11" fill="#32cd32" shape-rendering="crispEdges"/>
<text class="lb" x="1699" y="342.2" textLength="33.4" lengthAdjust="spacingAndGlyphs">105.948</text>
<rect x="1695" y="363" width="41" height="11" fill="#0000ff" shape-rendering="crispEdges"/>
<text class="lb" x="1699" y="372.2" textLength="33.4" lengthAdjust="spacingAndGlyphs">105.302</text>
<rect x="1695" y="390" width="41" height="11" fill="#0000ff" shape-rendering="crispEdges"/>
<text class="lb" x="1699" y="399.2" textLength="33.4" lengthAdjust="spacingAndGlyphs">104.721</text>
<text class="ax" x="1697" y="587" textLength="28.4" lengthAdjust="spacingAndGlyphs">0.8034</text>
<text class="ax" x="1697" y="638" textLength="18.4" lengthAdjust="spacingAndGlyphs">0.00</text>
<text class="ax" x="1697" y="742.8" textLength="31.2" lengthAdjust="spacingAndGlyphs">-1.5784</text>
<rect x="1694" y="578" width="1" height="1" fill="#000" shape-rendering="crispEdges"/>
<rect x="1694" y="634" width="1" height="1" fill="#000" shape-rendering="crispEdges"/>
<rect x="1694" y="744" width="1" height="1" fill="#000" shape-rendering="crispEdges"/>
<rect x="1694" y="750" width="1" height="1" fill="#000" shape-rendering="crispEdges"/>
<rect x="1694" y="784" width="1" height="1" fill="#000" shape-rendering="crispEdges"/>
<rect x="1694" y="835" width="1" height="1" fill="#000" shape-rendering="crispEdges"/>
<rect x="1694" y="896" width="1" height="1" fill="#000" shape-rendering="crispEdges"/>
<text class="ax" x="1696.8" y="758.8" textLength="15.2" lengthAdjust="spacingAndGlyphs">100</text>
<text class="ax" x="1696.8" y="787.9" textLength="10.4" lengthAdjust="spacingAndGlyphs">80</text>
<text class="ax" x="1696.8" y="838.5" textLength="10.4" lengthAdjust="spacingAndGlyphs">50</text>
<text class="ax" x="1696.8" y="899.7" textLength="10.4" lengthAdjust="spacingAndGlyphs">15</text>
<text class="ax" x="1696.8" y="918.6" textLength="5.2" lengthAdjust="spacingAndGlyphs">0</text>
<text class="ax" x="-0.8" y="935" textLength="51.7" lengthAdjust="spacingAndGlyphs">12 Feb 2020</text>
<text class="ax" x="63.2" y="935" textLength="52.7" lengthAdjust="spacingAndGlyphs">21 Feb 2020</text>
<text class="ax" x="127.2" y="935" textLength="47" lengthAdjust="spacingAndGlyphs">2 Mar 2020</text>
<text class="ax" x="191.2" y="935" textLength="52.3" lengthAdjust="spacingAndGlyphs">11 Mar 2020</text>
<text class="ax" x="255.2" y="935" textLength="52" lengthAdjust="spacingAndGlyphs">20 Mar 2020</text>
<text class="ax" x="319.2" y="935" textLength="52.3" lengthAdjust="spacingAndGlyphs">30 Mar 2020</text>
<text class="ax" x="383.2" y="935" textLength="46.3" lengthAdjust="spacingAndGlyphs">8 Apr 2020</text>
<text class="ax" x="447.2" y="935" textLength="50.4" lengthAdjust="spacingAndGlyphs">19 Apr 2020</text>
<text class="ax" x="511.2" y="935" textLength="50.7" lengthAdjust="spacingAndGlyphs">28 Apr 2020</text>
<text class="ax" x="575.2" y="935" textLength="46.6" lengthAdjust="spacingAndGlyphs">7 May 2020</text>
<text class="ax" x="639.2" y="935" textLength="55.7" lengthAdjust="spacingAndGlyphs">17 May 2020</text>
<text class="ax" x="703.2" y="935" textLength="55.4" lengthAdjust="spacingAndGlyphs">26 May 2020</text>
<text class="ax" x="767.2" y="935" textLength="45.4" lengthAdjust="spacingAndGlyphs">4 Jun 2020</text>
<text class="ax" x="831.2" y="935" textLength="50.3" lengthAdjust="spacingAndGlyphs">14 Jun 2020</text>
<text class="ax" x="895.2" y="935" textLength="50.3" lengthAdjust="spacingAndGlyphs">23 Jun 2020</text>
<text class="ax" x="959.2" y="935" textLength="41.7" lengthAdjust="spacingAndGlyphs">2 Jul 2020</text>
<text class="ax" x="1023.2" y="935" textLength="47.7" lengthAdjust="spacingAndGlyphs">12 Jul 2020</text>
<text class="ax" x="1087.2" y="935" textLength="47.7" lengthAdjust="spacingAndGlyphs">21 Jul 2020</text>
<text class="ax" x="1151.2" y="935" textLength="47.7" lengthAdjust="spacingAndGlyphs">30 Jul 2020</text>
<text class="ax" x="1215.2" y="935" textLength="48.7" lengthAdjust="spacingAndGlyphs">9 Aug 2020</text>
<text class="ax" x="1279.2" y="935" textLength="53.7" lengthAdjust="spacingAndGlyphs">18 Aug 2020</text>
<text class="ax" x="1343.2" y="935" textLength="53.4" lengthAdjust="spacingAndGlyphs">27 Aug 2020</text>
<text class="ax" x="1407.2" y="935" textLength="47.7" lengthAdjust="spacingAndGlyphs">6 Sep 2020</text>
<rect x="1738" y="19" width="2" height="919" fill="#ececec"/>
<g shape-rendering="crispEdges">
<rect x="0" y="626" width="1" height="9" fill="#c0c0c0"/>
<rect x="8" y="625" width="1" height="10" fill="#c0c0c0"/>
<rect x="16" y="625" width="1" height="10" fill="#c0c0c0"/>
<rect x="24" y="625" width="1" height="10" fill="#c0c0c0"/>
<rect x="32" y="624" width="1" height="11" fill="#c0c0c0"/>
<rect x="40" y="624" width="1" height="11" fill="#c0c0c0"/>
<rect x="48" y="616" width="1" height="19" fill="#c0c0c0"/>
<rect x="56" y="606" width="1" height="29" fill="#c0c0c0"/>
<rect x="64" y="601" width="1" height="34" fill="#c0c0c0"/>
<rect x="72" y="597" width="1" height="38" fill="#c0c0c0"/>
<rect x="80" y="599" width="1" height="36" fill="#c0c0c0"/>
<rect x="88" y="604" width="1" height="31" fill="#c0c0c0"/>
<rect x="96" y="609" width="1" height="26" fill="#c0c0c0"/>
<rect x="104" y="615" width="1" height="20" fill="#c0c0c0"/>
<rect x="112" y="631" width="1" height="4" fill="#c0c0c0"/>
<rect x="120" y="634" width="1" height="9" fill="#c0c0c0"/>
<rect x="128" y="634" width="1" height="15" fill="#c0c0c0"/>
<rect x="136" y="634" width="1" height="27" fill="#c0c0c0"/>
<rect x="144" y="634" width="1" height="33" fill="#c0c0c0"/>
<rect x="152" y="634" width="1" height="46" fill="#c0c0c0"/>
<rect x="160" y="634" width="1" height="60" fill="#c0c0c0"/>
<rect x="168" y="634" width="1" height="78" fill="#c0c0c0"/>
<rect x="176" y="634" width="1" height="98" fill="#c0c0c0"/>
<rect x="184" y="634" width="1" height="100" fill="#c0c0c0"/>
<rect x="192" y="634" width="1" height="102" fill="#c0c0c0"/>
<rect x="200" y="634" width="1" height="104" fill="#c0c0c0"/>
<rect x="208" y="634" width="1" height="84" fill="#c0c0c0"/>
<rect x="216" y="634" width="1" height="76" fill="#c0c0c0"/>
<rect x="224" y="634" width="1" height="70" fill="#c0c0c0"/>
<rect x="232" y="634" width="1" height="60" fill="#c0c0c0"/>
<rect x="240" y="634" width="1" height="45" fill="#c0c0c0"/>
<rect x="248" y="634" width="1" height="16" fill="#c0c0c0"/>
<rect x="256" y="630" width="1" height="5" fill="#c0c0c0"/>
<rect x="264" y="616" width="1" height="19" fill="#c0c0c0"/>
<rect x="272" y="604" width="1" height="31" fill="#c0c0c0"/>
<rect x="280" y="593" width="1" height="42" fill="#c0c0c0"/>
<rect x="288" y="586" width="1" height="49" fill="#c0c0c0"/>
<rect x="296" y="591" width="1" height="44" fill="#c0c0c0"/>
<rect x="304" y="603" width="1" height="32" fill="#c0c0c0"/>
<rect x="312" y="615" width="1" height="20" fill="#c0c0c0"/>
<rect x="320" y="621" width="1" height="14" fill="#c0c0c0"/>
<rect x="328" y="630" width="1" height="5" fill="#c0c0c0"/>
<rect x="344" y="634" width="1" height="2" fill="#c0c0c0"/>
<rect x="352" y="634" width="1" height="2" fill="#c0c0c0"/>
<rect x="368" y="631" width="1" height="4" fill="#c0c0c0"/>
<rect x="376" y="630" width="1" height="5" fill="#c0c0c0"/>
<rect x="384" y="628" width="1" height="7" fill="#c0c0c0"/>
<rect x="392" y="630" width="1" height="5" fill="#c0c0c0"/>
<rect x="400" y="632" width="1" height="3" fill="#c0c0c0"/>
<rect x="416" y="634" width="1" height="8" fill="#c0c0c0"/>
<rect x="424" y="634" width="1" height="10" fill="#c0c0c0"/>
<rect x="432" y="634" width="1" height="10" fill="#c0c0c0"/>
<rect x="440" y="634" width="1" height="12" fill="#c0c0c0"/>
<rect x="448" y="634" width="1" height="14" fill="#c0c0c0"/>
<rect x="456" y="634" width="1" height="14" fill="#c0c0c0"/>
<rect x="464" y="634" width="1" height="14" fill="#c0c0c0"/>
<rect x="472" y="634" width="1" height="14" fill="#c0c0c0"/>
<rect x="480" y="634" width="1" height="13" fill="#c0c0c0"/>
<rect x="488" y="634" width="1" height="14" fill="#c0c0c0"/>
<rect x="496" y="634" width="1" height="16" fill="#c0c0c0"/>
<rect x="504" y="634" width="1" height="16" fill="#c0c0c0"/>
<rect x="512" y="634" width="1" height="20" fill="#c0c0c0"/>
<rect x="520" y="634" width="1" height="24" fill="#c0c0c0"/>
<rect x="528" y="634" width="1" height="22" fill="#c0c0c0"/>
<rect x="536" y="634" width="1" height="24" fill="#c0c0c0"/>
<rect x="544" y="634" width="1" height="26" fill="#c0c0c0"/>
<rect x="552" y="634" width="1" height="26" fill="#c0c0c0"/>
<rect x="560" y="634" width="1" height="28" fill="#c0c0c0"/>
<rect x="568" y="634" width="1" height="30" fill="#c0c0c0"/>
<rect x="576" y="634" width="1" height="32" fill="#c0c0c0"/>
<rect x="584" y="634" width="1" height="30" fill="#c0c0c0"/>
<rect x="592" y="634" width="1" height="27" fill="#c0c0c0"/>
<rect x="600" y="634" width="1" height="20" fill="#c0c0c0"/>
<rect x="608" y="634" width="1" height="18" fill="#c0c0c0"/>
<rect x="616" y="634" width="1" height="16" fill="#c0c0c0"/>
<rect x="624" y="634" width="1" height="12" fill="#c0c0c0"/>
<rect x="632" y="634" width="1" height="10" fill="#c0c0c0"/>
<rect x="640" y="634" width="1" height="8" fill="#c0c0c0"/>
<rect x="648" y="634" width="1" height="6" fill="#c0c0c0"/>
<rect x="656" y="634" width="1" height="2" fill="#c0c0c0"/>
<rect x="672" y="633" width="1" height="2" fill="#c0c0c0"/>
<rect x="680" y="632" width="1" height="3" fill="#c0c0c0"/>
<rect x="688" y="630" width="1" height="5" fill="#c0c0c0"/>
<rect x="696" y="629" width="1" height="6" fill="#c0c0c0"/>
<rect x="704" y="630" width="1" height="5" fill="#c0c0c0"/>
<rect x="712" y="628" width="1" height="7" fill="#c0c0c0"/>
<rect x="720" y="628" width="1" height="7" fill="#c0c0c0"/>
<rect x="728" y="627" width="1" height="8" fill="#c0c0c0"/>
<rect x="736" y="627" width="1" height="8" fill="#c0c0c0"/>
<rect x="744" y="628" width="1" height="7" fill="#c0c0c0"/>
<rect x="752" y="622" width="1" height="13" fill="#c0c0c0"/>
<rect x="760" y="616" width="1" height="19" fill="#c0c0c0"/>
<rect x="768" y="611" width="1" height="24" fill="#c0c0c0"/>
<rect x="776" y="604" width="1" height="31" fill="#c0c0c0"/>
<rect x="784" y="600" width="1" height="35" fill="#c0c0c0"/>
<rect x="792" y="603" width="1" height="32" fill="#c0c0c0"/>
<rect x="800" y="610" width="1" height="25" fill="#c0c0c0"/>
<rect x="808" y="620" width="1" height="15" fill="#c0c0c0"/>
<rect x="816" y="629" width="1" height="6" fill="#c0c0c0"/>
<rect x="824" y="632" width="1" height="3" fill="#c0c0c0"/>
<rect x="840" y="634" width="1" height="2" fill="#c0c0c0"/>
<rect x="848" y="634" width="1" height="5" fill="#c0c0c0"/>
<rect x="856" y="634" width="1" height="9" fill="#c0c0c0"/>
<rect x="864" y="634" width="1" height="11" fill="#c0c0c0"/>
<rect x="872" y="634" width="1" height="14" fill="#c0c0c0"/>
<rect x="880" y="634" width="1" height="16" fill="#c0c0c0"/>
<rect x="888" y="634" width="1" height="17" fill="#c0c0c0"/>
<rect x="896" y="634" width="1" height="20" fill="#c0c0c0"/>
<rect x="904" y="634" width="1" height="19" fill="#c0c0c0"/>
<rect x="912" y="634" width="1" height="18" fill="#c0c0c0"/>
<rect x="920" y="634" width="1" height="16" fill="#c0c0c0"/>
<rect x="928" y="634" width="1" height="14" fill="#c0c0c0"/>
<rect x="936" y="634" width="1" height="10" fill="#c0c0c0"/>
<rect x="944" y="634" width="1" height="6" fill="#c0c0c0"/>
<rect x="952" y="634" width="1" height="5" fill="#c0c0c0"/>
<rect x="960" y="634" width="1" height="4" fill="#c0c0c0"/>
<rect x="968" y="634" width="1" height="2" fill="#c0c0c0"/>
<rect x="1008" y="634" width="1" height="2" fill="#c0c0c0"/>
<rect x="1016" y="634" width="1" height="5" fill="#c0c0c0"/>
<rect x="1024" y="634" width="1" height="7" fill="#c0c0c0"/>
<rect x="1032" y="634" width="1" height="6" fill="#c0c0c0"/>
<rect x="1040" y="634" width="1" height="6" fill="#c0c0c0"/>
<rect x="1048" y="634" width="1" height="7" fill="#c0c0c0"/>
<rect x="1056" y="634" width="1" height="6" fill="#c0c0c0"/>
<rect x="1064" y="634" width="1" height="7" fill="#c0c0c0"/>
<rect x="1072" y="634" width="1" height="6" fill="#c0c0c0"/>
<rect x="1080" y="634" width="1" height="6" fill="#c0c0c0"/>
<rect x="1088" y="634" width="1" height="7" fill="#c0c0c0"/>
<rect x="1096" y="634" width="1" height="7" fill="#c0c0c0"/>
<rect x="1104" y="634" width="1" height="8" fill="#c0c0c0"/>
<rect x="1112" y="634" width="1" height="12" fill="#c0c0c0"/>
<rect x="1120" y="634" width="1" height="18" fill="#c0c0c0"/>
<rect x="1128" y="634" width="1" height="25" fill="#c0c0c0"/>
<rect x="1136" y="634" width="1" height="30" fill="#c0c0c0"/>
<rect x="1144" y="634" width="1" height="36" fill="#c0c0c0"/>
<rect x="1152" y="634" width="1" height="40" fill="#c0c0c0"/>
<rect x="1160" y="634" width="1" height="39" fill="#c0c0c0"/>
<rect x="1168" y="634" width="1" height="36" fill="#c0c0c0"/>
<rect x="1176" y="634" width="1" height="32" fill="#c0c0c0"/>
<rect x="1184" y="634" width="1" height="32" fill="#c0c0c0"/>
<rect x="1192" y="634" width="1" height="30" fill="#c0c0c0"/>
<rect x="1200" y="634" width="1" height="29" fill="#c0c0c0"/>
<rect x="1208" y="634" width="1" height="27" fill="#c0c0c0"/>
<rect x="1216" y="634" width="1" height="25" fill="#c0c0c0"/>
<rect x="1224" y="634" width="1" height="22" fill="#c0c0c0"/>
<rect x="1232" y="634" width="1" height="17" fill="#c0c0c0"/>
<rect x="1240" y="634" width="1" height="10" fill="#c0c0c0"/>
<rect x="1248" y="634" width="1" height="5" fill="#c0c0c0"/>
<rect x="1256" y="634" width="1" height="2" fill="#c0c0c0"/>
<rect x="1280" y="634" width="1" height="8" fill="#c0c0c0"/>
<rect x="1288" y="634" width="1" height="7" fill="#c0c0c0"/>
<rect x="1296" y="634" width="1" height="8" fill="#c0c0c0"/>
<rect x="1304" y="634" width="1" height="9" fill="#c0c0c0"/>
<rect x="1312" y="634" width="1" height="9" fill="#c0c0c0"/>
<rect x="1320" y="634" width="1" height="8" fill="#c0c0c0"/>
<rect x="1328" y="634" width="1" height="6" fill="#c0c0c0"/>
<rect x="1336" y="634" width="1" height="7" fill="#c0c0c0"/>
<rect x="1344" y="634" width="1" height="2" fill="#c0c0c0"/>
<rect x="1352" y="634" width="1" height="6" fill="#c0c0c0"/>
<rect x="1360" y="634" width="1" height="8" fill="#c0c0c0"/>
<rect x="1368" y="634" width="1" height="7" fill="#c0c0c0"/>
<rect x="1376" y="634" width="1" height="7" fill="#c0c0c0"/>
<rect x="1384" y="634" width="1" height="5" fill="#c0c0c0"/>
<rect x="1392" y="634" width="1" height="4" fill="#c0c0c0"/>
<rect x="1400" y="634" width="1" height="3" fill="#c0c0c0"/>
</g>
<polyline fill="none" stroke="#ff0000" stroke-width="1" stroke-dasharray="3,3" shape-rendering="crispEdges" points="0.5,634.5 8.5,631.5 16.5,629.0 24.5,627.5 32.5,626.2 40.5,625.2 48.5,624.0 56.5,620.8 64.5,618.2 72.5,615.0 80.5,611.5 88.5,609.5 96.5,608.2 104.5,607.8 112.5,607.8 120.5,610.0 128.5,615.0 136.5,623.2 144.5,630.8 152.5,639.0 160.5,649.5 168.5,660.8 176.5,674.5 184.5,685.8 192.5,695.8 200.5,705.8 208.5,713.2 216.5,717.8 224.5,720.0 232.5,720.0 240.5,716.5 248.5,707.0 256.5,694.5 264.5,679.5 272.5,665.8 280.5,652.0 288.5,639.0 296.5,625.8 304.5,616.5 312.5,609.5 320.5,605.8 328.5,605.2 336.5,609.0 344.5,612.0 352.5,616.5 360.5,622.0 368.5,626.5 376.5,629.5 384.5,631.2 392.5,632.0 400.5,632.5 408.5,632.8 416.5,633.8 424.5,634.5 432.5,635.5 440.5,636.5 448.5,639.0 456.5,641.5 464.5,643.2 472.5,645.8 480.5,647.0 488.5,647.6 496.5,648.2 504.5,649.2 512.5,650.0 520.5,651.5 528.5,652.5 536.5,653.2 544.5,654.5 552.5,655.8 560.5,657.0 568.5,659.5 576.5,660.2 584.5,661.5 592.5,662.0 600.5,661.5 608.5,661.2 616.5,660.0 624.5,658.2 632.5,656.2 640.5,654.5 648.5,651.5 656.5,648.2 664.5,645.2 672.5,643.2 680.5,640.2 688.5,638.8 696.5,636.2 704.5,634.0 712.5,632.8 720.5,631.5 728.5,630.0 736.5,629.5 744.5,628.8 752.5,627.0 760.5,625.8 768.5,623.2 776.5,620.8 784.5,617.0 792.5,614.5 800.5,612.0 808.5,611.2 816.5,612.0 824.5,613.2 832.5,615.8 840.5,618.5 848.5,622.8 856.5,628.2 864.5,632.0 872.5,636.5 880.5,640.0 888.5,642.0 896.5,645.2 904.5,647.0 912.5,649.0 920.5,650.2 928.5,651.2 936.5,650.2 944.5,650.0 952.5,648.2 960.5,647.0 968.5,645.0 976.5,643.2 984.5,641.2 992.5,639.5 1000.5,638.2 1008.5,637.5 1016.5,637.5 1024.5,637.5 1032.5,637.5 1040.5,637.5 1048.5,637.7 1056.5,638.2 1064.5,639.5 1072.5,639.8 1080.5,640.0 1088.5,641.2 1096.5,641.2 1104.5,641.2 1112.5,642.5 1120.5,643.2 1128.5,645.8 1136.5,649.0 1144.5,651.5 1152.5,655.2 1160.5,658.8 1168.5,662.0 1176.5,665.0 1184.5,665.8 1192.5,668.2 1200.5,668.2 1208.5,668.2 1216.5,666.5 1224.5,665.0 1232.5,662.8 1240.5,659.5 1248.5,655.8 1256.5,653.2 1264.5,649.5 1272.5,646.2 1280.5,643.8 1288.5,642.5 1296.5,641.5 1304.5,640.2 1312.5,640.2 1320.5,641.2 1328.5,641.2 1336.5,642.5 1344.5,642.5 1352.5,642.5 1360.5,642.5 1368.5,641.5 1376.5,641.5 1384.5,641.2 1392.5,640.2 1400.5,640.2 1408.5,639.0 1416.5,639.0 1424.5,638.2 1432.5,637.0 1440.5,636.2"/>
<text class="ax" x="4.3" y="589" textLength="130.6" lengthAdjust="spacingAndGlyphs">MACD(12,26,9) 0.0091 -0.0299</text>
<g shape-rendering="crispEdges">
<line x1="0" y1="784.5" x2="1693" y2="784.5" stroke="#c0c0c0" stroke-width="1" stroke-dasharray="3,3"/>
<line x1="0" y1="835.5" x2="1693" y2="835.5" stroke="#c0c0c0" stroke-width="1" stroke-dasharray="3,3"/>
<line x1="0" y1="896.5" x2="1693" y2="896.5" stroke="#c0c0c0" stroke-width="1" stroke-dasharray="3,3"/>
</g>
<polyline fill="none" stroke="#1e90ff" stroke-width="1" shape-rendering="crispEdges" points="0.5,822.5 8.5,825.5 16.5,825.5 24.5,824.2 32.5,823.2 40.5,820.0 48.5,794.5 56.5,785.0 64.5,798.0 72.5,799.5 80.5,819.2 88.5,832.0 96.5,831.2 104.5,846.2 112.5,867.0 120.5,869.2 128.5,853.2 136.5,867.0 144.5,856.8 152.5,868.2 160.5,874.2 168.5,880.0 176.5,884.2 184.5,860.5 192.5,863.2 200.5,861.2 208.5,831.8 216.5,842.5 224.5,844.5 232.5,835.0 240.5,829.5 248.5,813.0 256.5,815.5 264.5,821.2 272.5,818.2 280.5,817.5 288.5,819.2 296.5,833.2 304.5,841.2 312.5,844.2 320.5,839.5 328.5,843.2 336.5,844.2 344.5,838.8 352.5,836.2 360.5,832.0 368.5,829.5 376.5,833.0 384.5,831.2 392.5,836.2 400.5,837.5 408.5,844.2 416.5,848.0 424.5,842.5 432.5,839.5 440.5,842.5 448.5,841.2 456.5,841.2 464.5,841.2 472.5,839.5 480.5,842.5 488.5,845.5 496.5,843.2 504.5,846.8 512.5,854.2 520.5,856.2 528.5,843.8 536.5,849.2 544.5,851.2 552.5,851.2 560.5,855.0 568.5,858.8 576.5,855.0 584.5,847.0 592.5,842.5 600.5,829.5 608.5,837.0 616.5,841.2 624.5,833.2 632.5,834.2 640.5,836.2 648.5,832.0 656.5,824.5 664.5,829.5 672.5,828.2 680.5,830.5 688.5,826.2 696.5,828.2 704.5,833.2 712.5,826.2 720.5,830.0 728.5,826.2 736.5,829.5 744.5,834.2 752.5,808.8 760.5,805.5 768.5,803.2 776.5,797.5 784.5,797.5 792.5,830.0 800.5,840.0 808.5,852.5 816.5,855.5 824.5,843.2 832.5,844.2 840.5,841.2 848.5,843.0 856.5,851.2 864.5,848.2 872.5,850.0 880.5,851.2 888.5,849.5 896.5,858.2 904.5,843.2 912.5,840.5 920.5,840.5 928.5,839.2 936.5,830.0 944.5,822.5 952.5,836.2 960.5,834.2 968.5,834.2 976.5,832.5 984.5,837.0 992.5,832.5 1000.5,839.2 1008.5,840.5 1016.5,847.0 1024.5,848.2 1032.5,837.5 1040.5,838.8 1048.5,847.0 1056.5,836.8 1064.5,844.2 1072.5,840.0 1080.5,838.2 1088.5,847.0 1096.5,837.5 1104.5,845.5 1112.5,860.5 1120.5,860.5 1128.5,871.2 1136.5,873.2 1144.5,873.2 1152.5,878.0 1160.5,848.8 1168.5,846.8 1176.5,843.2 1184.5,850.0 1192.5,851.2 1200.5,851.2 1208.5,842.5 1216.5,843.2 1224.5,840.0 1232.5,827.5 1240.5,822.5 1248.5,819.2 1256.5,830.0 1264.5,830.5 1272.5,845.0 1280.5,856.2 1288.5,838.8 1296.5,845.5 1304.5,842.5 1312.5,841.2 1320.5,838.2 1328.5,830.5 1336.5,841.2 1344.5,827.5 1352.5,846.2 1360.5,844.2 1368.5,837.5 1376.5,838.2 1384.5,833.2 1392.5,835.0 1400.5,833.2 1408.5,831.2 1416.5,831.2 1424.5,838.2 1432.5,833.2 1440.5,835.0"/>
<text class="ax" x="4.3" y="761" textLength="68" lengthAdjust="spacingAndGlyphs">RSI(14) 50.3843</text>
<polygon points="3,32 10,32 6.5,28" fill="#000"/>
<text class="ax" x="15.2" y="32.9" textLength="64" lengthAdjust="spacingAndGlyphs">USDJPY-,Daily</text>
<text class="ax" x="85" y="32.9" textLength="140.6" lengthAdjust="spacingAndGlyphs">106.229 106.292 105.976 106.131</text>
<polygon points="1449.5,22 1459.5,22 1454.5,27" fill="#c0c0c0"/>
<g>
<rect x="1" y="39" width="223" height="68" fill="#fff"/>
<rect x="3" y="41" width="52" height="25" fill="url(#gt)"/>
<rect x="170" y="41" width="52" height="25" fill="url(#gt)"/>
<rect x="3" y="65" width="109" height="40" fill="url(#gb)"/>
<rect x="114" y="65" width="108" height="40" fill="url(#gb)"/>
<path d="M3.5 65V41.5H54.5V65" fill="none" stroke="#0808c0"/>
<path d="M170.5 65V41.5H221.5V65" fill="none" stroke="#0808c0"/>
<rect x="7" y="65" width="44" height="1" fill="#8c8cf8" shape-rendering="crispEdges"/>
<rect x="174" y="65" width="44" height="1" fill="#8c8cf8" shape-rendering="crispEdges"/>
<rect x="55" y="41" width="115" height="24" fill="#fff"/>
<rect x="57.5" y="41.5" width="110" height="21" fill="#fff" stroke="#a8a8a8"/>
<rect x="58.5" y="42.5" width="19.5" height="19" fill="url(#gg)" stroke="#b4b4b4" stroke-width="1"/>
<rect x="147" y="42.5" width="19.5" height="19" fill="url(#gg)" stroke="#b4b4b4" stroke-width="1"/>
<polygon points="65.5,50 70.5,50 68,53" fill="#4a5aa8"/>
<polygon points="153.5,53 158.5,53 156,50" fill="#4a5aa8"/>
<text x="142.6" y="55.6" text-anchor="end" style="font-size:11.8px;fill:#000">1.00</text>
<text x="15.5" y="57" style="font-size:11.7px;fill:#fff" textLength="25" lengthAdjust="spacingAndGlyphs">SELL</text>
<text x="183.5" y="57" style="font-size:11.7px;fill:#fff" textLength="24" lengthAdjust="spacingAndGlyphs">BUY</text>
<text x="26.5" y="95.9" style="font-size:12.4px;font-weight:bold;fill:#fff" textLength="20.5" lengthAdjust="spacingAndGlyphs">106</text>
<text x="136.5" y="95.9" style="font-size:12.4px;font-weight:bold;fill:#fff" textLength="20.5" lengthAdjust="spacingAndGlyphs">106</text>
<text x="50.5" y="95.9" style="font-size:33.6px;fill:#fff" textLength="34" lengthAdjust="spacingAndGlyphs">13</text>
<text x="161.5" y="95.9" style="font-size:33.6px;fill:#fff" textLength="35" lengthAdjust="spacingAndGlyphs">15</text>
<text x="90" y="79.8" style="font-size:12px;font-weight:bold;fill:#fff">1</text>
<text x="201" y="79.8" style="font-size:12px;font-weight:bold;fill:#fff">6</text>
</g>
<g id="toolbar">
<rect x="0" y="0" width="1740" height="17" fill="#f0f0f0"/>
<g shape-rendering="crispEdges"><rect x="0" y="16" width="1740" height="1" fill="#dadada"/><rect x="0" y="17" width="1740" height="1" fill="#a6a6a6"/><rect x="0" y="18" width="1740" height="1" fill="#8c8c8c"/><rect x="0" y="19" width="1740" height="2" fill="#fdfdfd"/></g>
<rect x="331" y="0" width="22" height="15" fill="#f9f9f9"/>
<rect x="480" y="0" width="25" height="15" fill="#f9f9f9"/>
<rect x="511" y="0" width="23" height="15" fill="#f9f9f9"/>
<rect x="670" y="0" width="23" height="15" fill="#f9f9f9"/>
<rect x="1143" y="0" width="24" height="15" fill="#f9f9f9"/>
<rect x="54" y="0" width="1" height="15" fill="#989898" shape-rendering="crispEdges"/>
<rect x="328" y="0" width="1" height="15" fill="#989898" shape-rendering="crispEdges"/>
<rect x="385" y="0" width="1" height="15" fill="#989898" shape-rendering="crispEdges"/>
<rect x="475" y="0" width="1" height="15" fill="#989898" shape-rendering="crispEdges"/>
<rect x="508" y="0" width="1" height="15" fill="#989898" shape-rendering="crispEdges"/>
<rect x="537" y="0" width="1" height="15" fill="#989898" shape-rendering="crispEdges"/>
<rect x="668" y="0" width="1" height="15" fill="#989898" shape-rendering="crispEdges"/>
<rect x="725" y="0" width="1" height="15" fill="#989898" shape-rendering="crispEdges"/>
<rect x="1142" y="0" width="1" height="15" fill="#989898" shape-rendering="crispEdges"/>
<rect x="1225" y="0" width="1" height="15" fill="#989898" shape-rendering="crispEdges"/>
<rect x="290.5" y="0" width="1" height="16" fill="#b4b4b4"/>
<rect x="293.5" y="0" width="3" height="1" fill="#b4b4b4" shape-rendering="crispEdges"/>
<rect x="293.5" y="2" width="3" height="1" fill="#b4b4b4" shape-rendering="crispEdges"/>
<rect x="293.5" y="4" width="3" height="1" fill="#b4b4b4" shape-rendering="crispEdges"/>
<rect x="293.5" y="6" width="3" height="1" fill="#b4b4b4" shape-rendering="crispEdges"/>
<rect x="293.5" y="8" width="3" height="1" fill="#b4b4b4" shape-rendering="crispEdges"/>
<rect x="293.5" y="10" width="3" height="1" fill="#b4b4b4" shape-rendering="crispEdges"/>
<rect x="293.5" y="12" width="3" height="1" fill="#b4b4b4" shape-rendering="crispEdges"/>
<rect x="657.5" y="0" width="1" height="16" fill="#b4b4b4"/>
<rect x="660.5" y="0" width="3" height="1" fill="#b4b4b4" shape-rendering="crispEdges"/>
<rect x="660.5" y="2" width="3" height="1" fill="#b4b4b4" shape-rendering="crispEdges"/>
<rect x="660.5" y="4" width="3" height="1" fill="#b4b4b4" shape-rendering="crispEdges"/>
<rect x="660.5" y="6" width="3" height="1" fill="#b4b4b4" shape-rendering="crispEdges"/>
<rect x="660.5" y="8" width="3" height="1" fill="#b4b4b4" shape-rendering="crispEdges"/>
<rect x="660.5" y="10" width="3" height="1" fill="#b4b4b4" shape-rendering="crispEdges"/>
<rect x="660.5" y="12" width="3" height="1" fill="#b4b4b4" shape-rendering="crispEdges"/>
<rect x="964.0" y="0" width="1" height="16" fill="#b4b4b4"/>
<rect x="967.0" y="0" width="3" height="1" fill="#b4b4b4" shape-rendering="crispEdges"/>
<rect x="967.0" y="2" width="3" height="1" fill="#b4b4b4" shape-rendering="crispEdges"/>
<rect x="967.0" y="4" width="3" height="1" fill="#b4b4b4" shape-rendering="crispEdges"/>
<rect x="967.0" y="6" width="3" height="1" fill="#b4b4b4" shape-rendering="crispEdges"/>
<rect x="967.0" y="8" width="3" height="1" fill="#b4b4b4" shape-rendering="crispEdges"/>
<rect x="967.0" y="10" width="3" height="1" fill="#b4b4b4" shape-rendering="crispEdges"/>
<rect x="967.0" y="12" width="3" height="1" fill="#b4b4b4" shape-rendering="crispEdges"/>
<rect x="1" y="-6" width="15.5" height="17" rx="1.5" fill="#fff" stroke="#2e78c8" stroke-width="1.6"/><rect x="1" y="-6" width="2.2" height="17" fill="#1c4e96"/>
<rect x="5.5" y="0.5" width="1.2" height="1.2" fill="#e03030"/><rect x="8" y="0.7" width="6" height="0.8" fill="#9aa"/>
<rect x="5.5" y="3.0" width="1.2" height="1.2" fill="#e03030"/><rect x="8" y="3.2" width="6" height="0.8" fill="#9aa"/>
<rect x="5.5" y="5.5" width="1.2" height="1.2" fill="#e03030"/><rect x="8" y="5.7" width="6" height="0.8" fill="#9aa"/>
<rect x="30" y="-4" width="10" height="14" fill="#fff" stroke="#9a9a8a" stroke-width="1"/>
<line x1="41" y1="8" x2="45.5" y2="13" stroke="#c8a020" stroke-width="2.6" stroke-linecap="round"/>
<circle cx="37.5" cy="4" r="5" fill="#cfe3f6" stroke="#7a9fd0" stroke-width="1.3"/>
<rect x="65.5" y="-4" width="10" height="13.5" fill="#fff" stroke="#707070" stroke-width="1"/>
<rect x="67.5" y="1.5" width="6" height="0.8" fill="#888"/>
<rect x="67.5" y="4" width="6" height="0.8" fill="#888"/>
<rect x="67.5" y="6.5" width="6" height="0.8" fill="#888"/>
<path d="M72.4 3.4h3.4v4.1h3.9v3.3h-3.9v3.9h-3.4v-3.9h-4.1v-3.3h4.1z" fill="#1fd01f" stroke="#0a8a0a" stroke-width="0.7"/>
<text class="cj" x="83" y="8">新订单</text>
<polygon points="131,6.5 137.5,-1 141,-1 146.8,6 146.5,8.6 139,13.2 131.3,8.6" fill="#e4ac30" stroke="#a87818" stroke-width="0.9"/><polygon points="131.3,8.6 139,13.2 146.5,8.6 146.6,7 139,11.4 131.2,7" fill="#c89020"/><polygon points="133,6.2 137.8,0.5 140,3 135.5,8" fill="#f4d068"/>
<rect x="162.5" y="-3" width="8" height="8" fill="#3c8ee0" stroke="#2060b0" stroke-width="0.8"/><rect x="165.5" y="0" width="2" height="5" fill="#e8f2fc"/>
<ellipse cx="163.5" cy="9" rx="4" ry="3" fill="#dfe7f4" stroke="#8a9cc0" stroke-width="0.9"/><ellipse cx="170.5" cy="9" rx="4.3" ry="3.3" fill="#dfe7f4" stroke="#8a9cc0" stroke-width="0.9"/><ellipse cx="167" cy="7.5" rx="4" ry="3.2" fill="#e6edf8" stroke="#8a9cc0" stroke-width="0.9"/><rect x="161" y="8" width="12" height="3.3" fill="#dfe7f4"/>
<g fill="none" stroke-width="1.5"><path d="M191 10.5a7 7 0 0 1 0-11" stroke="#5a86cc"/><path d="M193.3 8.3a4 4 0 0 1 0-6.6" stroke="#5a86cc"/><path d="M200.5-0.5a7 7 0 0 1-3 12.5" stroke="#48a848" stroke-width="2"/><path d="M198.2 1.7a4 4 0 0 1-1 7" stroke="#48a848"/></g><circle cx="195.8" cy="5" r="1.5" fill="#2c7c2c"/><rect x="195" y="5" width="1.6" height="7.5" fill="#2c8c2c"/>
<ellipse cx="222.5" cy="0.8" rx="7.8" ry="3" fill="#6cb2e0" stroke="#3c7cb4" stroke-width="0.8"/><path d="M217 3.5h11l-1.5 6-4 3-4-3z" fill="#f2c82e" stroke="#b08c14" stroke-width="0.8"/>
<circle cx="226.7" cy="8.8" r="4" fill="#e42222" stroke="#a01010" stroke-width="0.7"/><rect x="225.3" y="7.4" width="2.8" height="2.8" fill="#fff"/>
<text class="cj" x="235.5" y="8">自动交易</text>
<g stroke="#484848" stroke-width="1.3" fill="none"><path d="M309.5 0V12.5M306 11H320"/></g><polygon points="320.5,11 318,9.4 318,12.6" fill="#484848"/>
<path d="M315.5 0V8M315.5 1.5h2.5M313 7h2.5" stroke="#1e9e1e" stroke-width="1.5" fill="none"/>
<g stroke="#484848" stroke-width="1.3" fill="none"><path d="M337.5 0V12.5M334 11H348"/></g><polygon points="348.5,11 346,9.4 346,12.6" fill="#484848"/>
<rect x="341.2" y="-2" width="3.6" height="9" fill="#2cb42c" stroke="#128012" stroke-width="0.8"/><rect x="342.6" y="7" width="1" height="2" fill="#128012"/>
<g stroke="#484848" stroke-width="1.3" fill="none"><path d="M365.5 0V12.5M362 11H376"/></g><polygon points="376.5,11 374,9.4 374,12.6" fill="#484848"/>
<path d="M364 9.5C367 4 369 1.5 371 2.2S374 5 375.5 6.5" stroke="#1e9e1e" stroke-width="1.4" fill="none"/>
<line x1="404.5" y1="8" x2="409.5" y2="12.5" stroke="#d2a820" stroke-width="3" stroke-linecap="round"/>
<circle cx="400" cy="3.3" r="5.6" fill="#d4e6f8" stroke="#3c78cc" stroke-width="1.5"/>
<rect x="396.8" y="2.5" width="6.4" height="1.7" fill="#2c68c4"/>
<rect x="399.15" y="0" width="1.7" height="6.6" fill="#2c68c4"/>
<line x1="432.5" y1="8" x2="437.5" y2="12.5" stroke="#d2a820" stroke-width="3" stroke-linecap="round"/>
<circle cx="428" cy="3.3" r="5.6" fill="#d4e6f8" stroke="#3c78cc" stroke-width="1.5"/>
<rect x="424.8" y="2.5" width="6.4" height="1.7" fill="#2c68c4"/>
<rect x="450" y="-2" width="7.5" height="6.5" fill="#6cb03c"/><rect x="458.7" y="-2" width="7.5" height="6.5" fill="#3c6ccc"/><rect x="450" y="5.8" width="7.5" height="7" fill="#3c6ccc"/><rect x="458.7" y="5.8" width="7.5" height="7" fill="#6cb03c"/>
<rect x="451.5" y="1" width="4.5" height="1.8" fill="#fff"/>
<rect x="460.2" y="1" width="4.5" height="1.8" fill="#fff"/>
<rect x="451.5" y="9" width="4.5" height="1.8" fill="#fff"/>
<rect x="460.2" y="9" width="4.5" height="1.8" fill="#fff"/>
<g stroke="#484848" stroke-width="1.3" fill="none"><path d="M489.5 0V12.5M486 11H500"/></g><polygon points="500.5,11 498,9.4 498,12.6" fill="#484848"/>
<polygon points="493,0.5 493,8.5 498.5,4.5" fill="#2cb42c" stroke="#128012" stroke-width="0.6"/>
<g stroke="#484848" stroke-width="1.3" fill="none"><path d="M517.5 0V12.5M514 11H528"/></g><polygon points="528.5,11 526,9.4 526,12.6" fill="#484848"/>
<rect x="522" y="0" width="1.3" height="8.5" fill="#2c6cc8"/><polygon points="523.8,4 527,1.8 527,6.2" fill="#e02c1c"/><rect x="526" y="3.4" width="2.5" height="1.2" fill="#e02c1c"/>
<rect x="548" y="-4" width="10" height="13" fill="#fff" stroke="#707070" stroke-width="1"/><rect x="551" y="-4" width="9" height="9" fill="#fff" stroke="#707070" stroke-width="1"/>
<path d="M555.8 1.4h3.4v4.6h4.2v3.3h-4.2v4.4h-3.4v-4.4h-4.2v-3.3h4.2z" fill="#1fd01f" stroke="#0a8a0a" stroke-width="0.7"/>
<polygon points="568,4 574,4 571,7.2" fill="#202020"/>
<circle cx="593" cy="4.8" r="7.6" fill="#2a6cd0" stroke="#184c9c" stroke-width="0.8"/><circle cx="593" cy="4.8" r="5.3" fill="#eef4fc"/><path d="M593 1v4l3 1.2" stroke="#333" stroke-width="1" fill="none"/>
<polygon points="607.5,4 613.5,4 610.5,7.2" fill="#202020"/>
<rect x="625" y="-4" width="14.5" height="15.5" fill="#fff" stroke="#3c7ccc" stroke-width="1.6"/><rect x="625" y="5" width="14.5" height="1.2" fill="#3c7ccc"/>
<path d="M627 3.5l3-1 2 0.8 3-1.8 3 0.5" stroke="#d03020" stroke-width="1.2" fill="none"/><path d="M627 9.5l3-1.5 2 1.2 3-2 3 1.3" stroke="#2c9c2c" stroke-width="1.2" fill="none"/>
<polygon points="646.5,4 652.5,4 649.5,7.2" fill="#202020"/>
<polygon points="675.8,-2 675.8,8.2 678.6,5.9 681.3,11.6 683.6,10.5 681,5.2 685,5" fill="#505050"/>
<rect x="701" y="5" width="15" height="1.2" fill="#484848"/><rect x="708" y="0" width="1.2" height="12.5" fill="#484848"/>
<rect x="742" y="0" width="1.2" height="12.5" fill="#484848"/>
<rect x="765" y="5" width="12.5" height="1.2" fill="#484848"/>
<line x1="793" y1="12" x2="806" y2="-0.5" stroke="#484848" stroke-width="1.2"/>
<g stroke="#484848" stroke-width="1.1"><line x1="819" y1="7" x2="832" y2="-1"/><line x1="821" y1="12" x2="835" y2="3"/><line x1="823" y1="4.5" x2="825" y2="9.5"/><line x1="826" y1="2.5" x2="828" y2="7.5"/><line x1="829" y1="0.8" x2="831" y2="5.5"/></g>
<text x="830.5" y="13.5" style="font-size:6.5px;font-weight:bold;fill:#333">E</text>
<line x1="847" y1="1.5" x2="860" y2="1.5" stroke="#484848" stroke-width="1" stroke-dasharray="1,1"/>
<line x1="847" y1="4.5" x2="860" y2="4.5" stroke="#484848" stroke-width="1" stroke-dasharray="1,1"/>
<line x1="847" y1="7.5" x2="860" y2="7.5" stroke="#484848" stroke-width="1" stroke-dasharray="1,1"/>
<line x1="847" y1="10.5" x2="856" y2="10.5" stroke="#484848" stroke-width="1" stroke-dasharray="1,1"/>
<text x="857.5" y="13.5" style="font-size:6.5px;font-weight:bold;fill:#333">F</text>
<text x="878.3" y="10" style="font-size:12.5px;font-weight:bold;fill:#6a6a6a">A</text>
<rect x="905.5" y="-3" width="11.5" height="13.5" fill="none" stroke="#606060" stroke-width="1" stroke-dasharray="1,1"/><text x="907.8" y="9.5" style="font-size:11px;fill:#5a5a5a">T</text>
<polygon points="936,-1 939.5,2.5 936,6 932.5,2.5" fill="#303030"/><polygon points="943,4 946.5,7.5 943,11 939.5,7.5" fill="#303030"/><path d="M934 7l2.5 2.5 4-5" stroke="#303030" stroke-width="1.2" fill="none"/>
<polygon points="953,4 959,4 956,7.2" fill="#202020"/>
<text class="tf" x="979.2" y="9.4" textLength="13.5" lengthAdjust="spacingAndGlyphs">M1</text>
<text class="tf" x="1006.9" y="9.4" textLength="13.9" lengthAdjust="spacingAndGlyphs">M5</text>
<text class="tf" x="1033" y="9.4" textLength="18.8" lengthAdjust="spacingAndGlyphs">M15</text>
<text class="tf" x="1061" y="9.4" textLength="18.7" lengthAdjust="spacingAndGlyphs">M30</text>
<text class="tf" x="1092" y="9.4" textLength="12.7" lengthAdjust="spacingAndGlyphs">H1</text>
<text class="tf" x="1119.4" y="9.4" textLength="13.1" lengthAdjust="spacingAndGlyphs">H4</text>
<text class="tf" x="1148" y="9.4" textLength="12.8" lengthAdjust="spacingAndGlyphs">D1</text>
<text class="tf" x="1176" y="9.4" textLength="14.8" lengthAdjust="spacingAndGlyphs">W1</text>
<text class="tf" x="1201.8" y="9.4" textLength="15.8" lengthAdjust="spacingAndGlyphs">MN</text>
<line x1="1693" y1="4.8" x2="1688.5" y2="9.6" stroke="#1c50c8" stroke-width="3" stroke-linecap="round"/><circle cx="1695.5" cy="1.5" r="4" fill="#f0f0f0" stroke="#2c60d8" stroke-width="1.8"/>
<ellipse cx="1729" cy="1.5" rx="6.3" ry="5" fill="#f6f6f8" stroke="#9c9c9c" stroke-width="1"/><polygon points="1729.5,6 1731.5,8.8 1732,5.5" fill="#8a8a8a"/>
<ellipse cx="1719.3" cy="6" rx="5.2" ry="4" fill="#f8f8fa" stroke="#8e8e8e" stroke-width="1.1"/><polygon points="1716.3,9 1716,11.8 1718.5,9.8" fill="#808080"/>
</g>
</svg></body></html>
